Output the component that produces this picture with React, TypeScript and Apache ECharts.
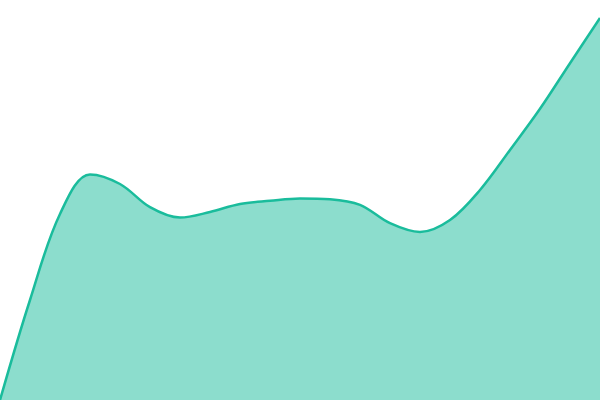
import React, { useEffect, useRef } from 'react';
import * as echarts from 'echarts';

// evenly spaced categories across the width
const categories = Array.from({ length: 21 }, (_, i) => String(i));
const values = [0, 25, 46.5, 56.4, 54, 48.2, 45.6, 47, 49, 49.8, 50.4, 50.2, 48.8, 44.2, 42, 45, 52.5, 62.5, 72.8, 84.2, 95.5];

const lineColor = '#1abc9c';

const App: React.FC = () => {
  const chartRef = useRef<HTMLDivElement>(null);

  useEffect(() => {
    if (!chartRef.current) return;
    const chart = echarts.init(chartRef.current, null, { renderer: 'svg' });

    chart.setOption({
      animation: false,
      backgroundColor: '#ffffff',
      grid: { left: 0, right: 0, top: 0, bottom: 0 },
      xAxis: { type: 'category', data: categories, boundaryGap: false, show: false },
      yAxis: { type: 'value', min: 0, max: 100, show: false },
      series: [
        {
          type: 'line',
          smooth: 0.35,
          symbol: 'none',
          data: values,
          lineStyle: { color: lineColor, width: 2.5 },
          areaStyle: { color: lineColor, opacity: 0.5 }
        }
      ]
    });

    return () => {
      chart.dispose();
    };
  }, []);

  return (
    <div
      ref={chartRef}
      style={{ position: 'fixed', left: 0, top: 0, width: '600px', height: '400px' }}
    />
  );
};

export default App;
